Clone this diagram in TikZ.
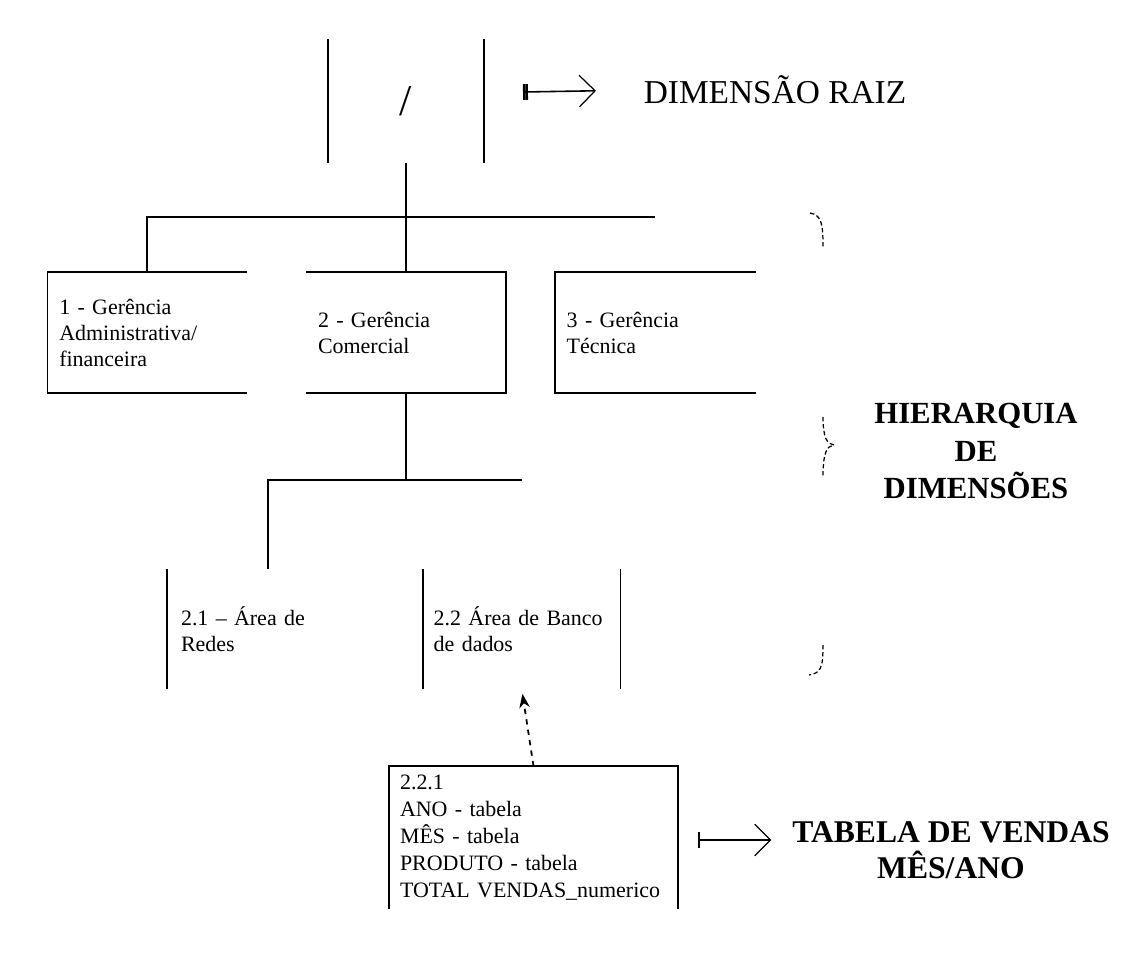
\documentclass[tikz,border=0pt]{standalone}
\usepackage{fontspec}
\setmainfont{Liberation Serif}
\usetikzlibrary{arrows.meta,positioning}
\newcommand{\nohyph}{\hyphenpenalty=10000\relax\exhyphenpenalty=10000\relax}

\begin{document}
\begin{tikzpicture}[
    x=0.02cm, y=-0.02cm,
    line width=1pt,
    every node/.style={inner sep=0pt},
    unitbox/.style={minimum height=2.38cm, text width=3.52cm, inner xsep=0.22cm, align=left, font=\fontsize{12.5}{14.8}\selectfont\nohyph},
    bigtext/.style={align=center, font=\fontsize{17.5}{21.5}\selectfont\bfseries},
    pointer/.style={line width=0.9pt, {Bar[width=9pt,line width=1.4pt] Bar[width=9pt,line width=1.4pt]}-{Straight Barb[length=9pt,width=18pt,line width=0.7pt]}},
    bracepart/.style={line width=0.7pt, dash pattern=on 2.5pt off 1.5pt}
]
\path[use as bounding box, fill=white] (0,0) rectangle (1136,956);

% Root
\node[minimum width=3.08cm, minimum height=2.44cm, font=\fontsize{25}{25}\selectfont] (root) at (406,101) {/};
\draw (root.north west) -- (root.south west);
\draw (root.north east) -- (root.south east);

\node[font=\fontsize{19}{22}\selectfont] (raiz) at (775,90) {DIMENSÃO RAIZ};
\coordinate (pr) at (523,92);
\draw[pointer, shorten >=0.94cm] (pr) -- (raiz.west);

% First level
\node[unitbox] (g2) at (406,332.5) {2 - Gerência\\Comercial};
\node[unitbox, left=1.18cm of g2] (g1) {1 - Gerência\\Administrativa/\\financeira};
\node[unitbox, right=0.98cm of g2, text width=3.54cm] (g3) {3 - Gerência\\Técnica};

\draw (g1.north east) -- (g1.north west) -- (g1.south west) -- (g1.south east);
\draw (g2.north west) -- (g2.north east) -- (g2.south east) -- (g2.south west);
\draw (g3.north east) -- (g3.north west) -- (g3.south west) -- (g3.south east);

% Second level
\node[unitbox, minimum height=2.36cm, text width=3.48cm, inner xsep=0.26cm] (s21) at (268,629) {2.1 – Área de\\Redes};
\node[unitbox, right=1.08cm of s21, minimum height=2.36cm, text width=3.52cm, inner xsep=0.2cm] (s22) {2.2 Área de Banco\\de dados};

\draw (s21.north west) -- (s21.south west);
\draw (s22.north west) -- (s22.south west);
\draw (s22.north east) -- (s22.south east);

% Table
\node[unitbox, minimum height=2.82cm, text width=5.34cm, inner xsep=0.2cm, font=\fontsize{12.5}{15.4}\selectfont\nohyph] (tab) at (533.5,837.5) {2.2.1\\ANO - tabela\\MÊS - tabela\\PRODUTO - tabela\\TOTAL VENDAS\_numerico};
\draw (tab.south west) -- (tab.north west) -- (tab.north east) -- (tab.south east);

\node[bigtext, font=\fontsize{18}{20.5}\selectfont\bfseries] (vendas) at (951,850) {TABELA DE VENDAS\\MÊS/ANO};
\coordinate (pv) at (698,840);
\draw[pointer, {Bar[width=9pt,line width=1.4pt]}-{Straight Barb[length=9pt,width=18pt,line width=0.7pt]}, shorten >=0.4cm] (pv) -- (pv -| vendas.west);

% Hierarchy label
\node[bigtext] (hier) at (976,451) {HIERARQUIA\\DE\\DIMENSÕES};
\draw[bracepart] (810,213) .. controls (822,215) and (823,225) .. (823,247);
\draw[bracepart] (823,417) .. controls (823,438) and (827,444) .. (834,445) .. controls (827,446) and (823,452) .. (823,477);
\draw[bracepart] (823,645) .. controls (823,668) and (821,673) .. (809,675);

% Connections
\coordinate (b1) at (g3.north |- 0,217);
\coordinate (b2) at (s22.north |- 0,480);
\draw (root.south) -- (g2.north);
\draw (g1.north) |- (b1);
\draw (g2.south) -- (g2.south |- b2);
\draw (s21.north) |- (b2);
\draw[dashed, -{Stealth[length=8pt,width=6pt]}, shorten >=0.1cm] (tab.north) -- (s22.south);

\end{tikzpicture}
\end{document}
